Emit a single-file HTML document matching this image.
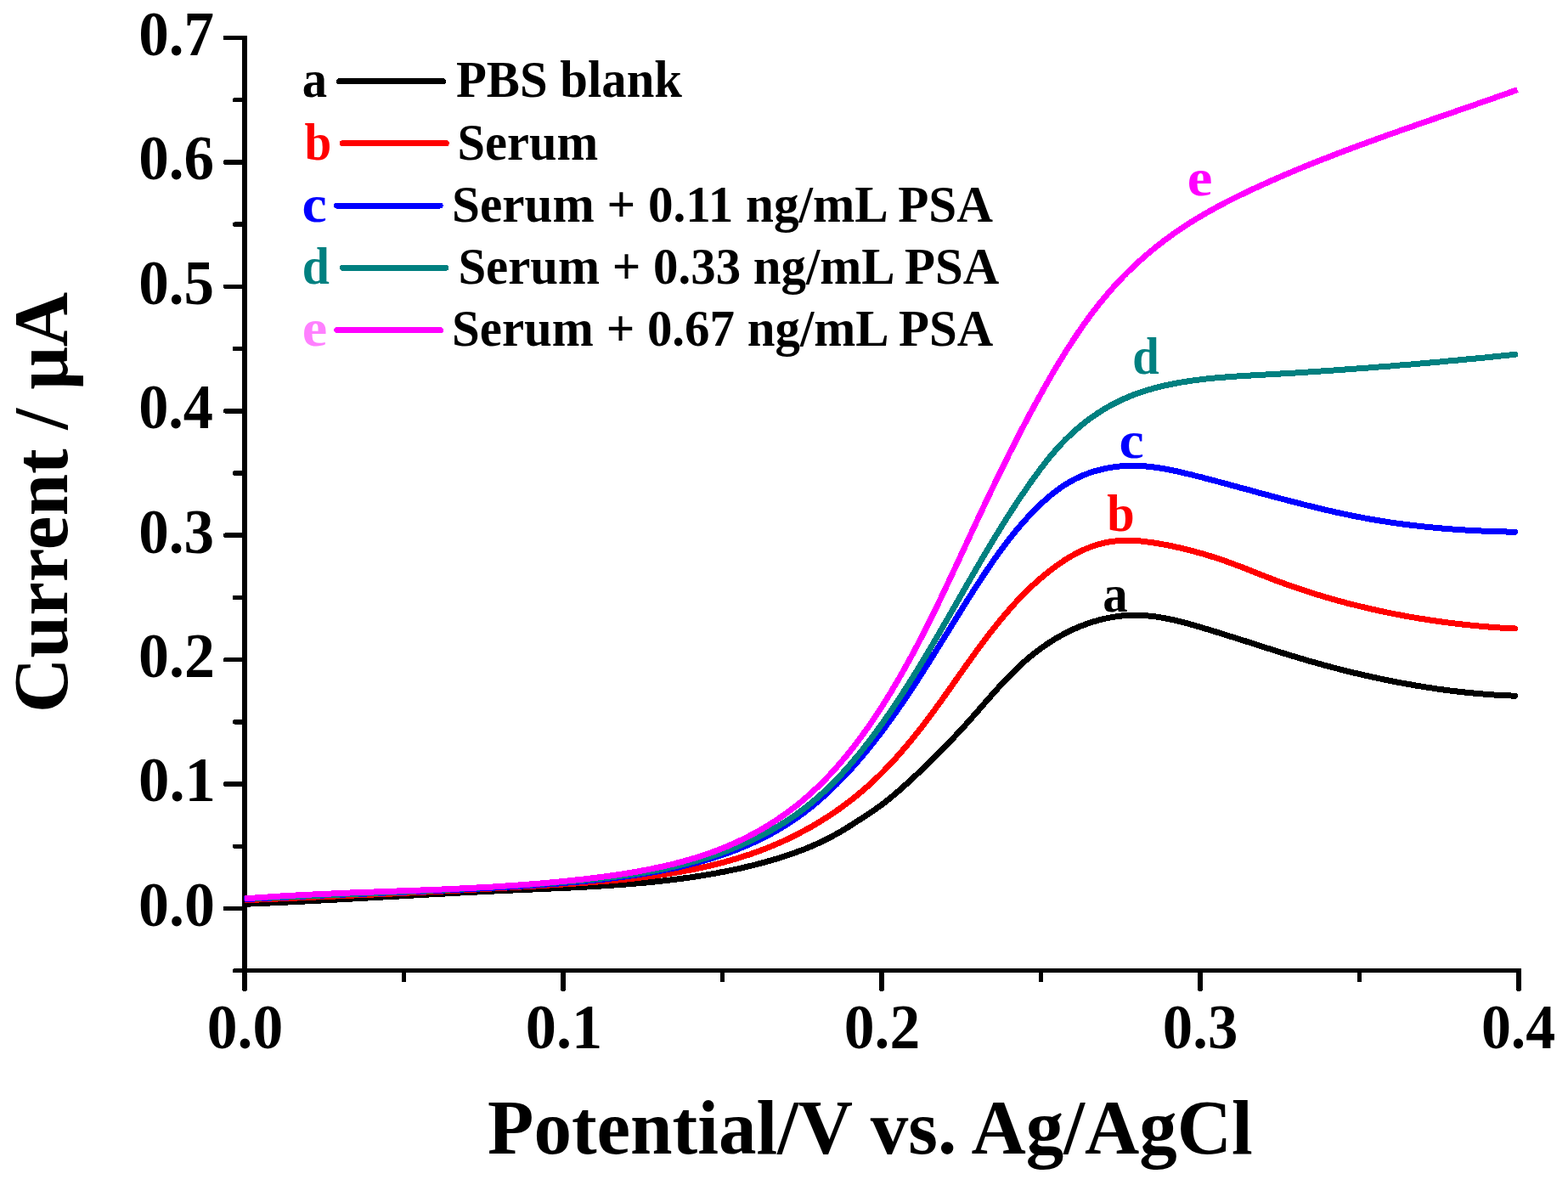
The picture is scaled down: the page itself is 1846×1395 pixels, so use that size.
<!DOCTYPE html><html><head><meta charset="utf-8"><title>Current vs Potential</title><style>html,body{margin:0;padding:0;background:#fff;overflow:hidden}svg{display:block}text{font-family:"Liberation Serif",serif;font-weight:bold}</style></head><body>
<svg width="1846" height="1395" viewBox="0 0 1846 1395" shape-rendering="crispEdges">
<rect width="1846" height="1395" fill="#fff"/>
<g stroke="#000" fill="none">
<path d="M288.0 42.0 V1165.7142857142858" stroke-width="6"/>
<path d="M285.0 1142.71 H1791.0" stroke-width="5"/>
<path d="M265.5 1069.50 H288.0" stroke-width="5.5" stroke-linecap="round"/>
<path d="M265.5 923.07 H288.0" stroke-width="5.5" stroke-linecap="round"/>
<path d="M265.5 776.64 H288.0" stroke-width="5.5" stroke-linecap="round"/>
<path d="M265.5 630.21 H288.0" stroke-width="5.5" stroke-linecap="round"/>
<path d="M265.5 483.79 H288.0" stroke-width="5.5" stroke-linecap="round"/>
<path d="M265.5 337.36 H288.0" stroke-width="5.5" stroke-linecap="round"/>
<path d="M265.5 190.93 H288.0" stroke-width="5.5" stroke-linecap="round"/>
<path d="M265.5 44.50 H288.0" stroke-width="5.5" stroke-linecap="round"/>
<path d="M276.5 1142.71 H288.0" stroke-width="5.5" stroke-linecap="round"/>
<path d="M276.5 996.29 H288.0" stroke-width="5.5" stroke-linecap="round"/>
<path d="M276.5 849.86 H288.0" stroke-width="5.5" stroke-linecap="round"/>
<path d="M276.5 703.43 H288.0" stroke-width="5.5" stroke-linecap="round"/>
<path d="M276.5 557.00 H288.0" stroke-width="5.5" stroke-linecap="round"/>
<path d="M276.5 410.57 H288.0" stroke-width="5.5" stroke-linecap="round"/>
<path d="M276.5 264.14 H288.0" stroke-width="5.5" stroke-linecap="round"/>
<path d="M276.5 117.71 H288.0" stroke-width="5.5" stroke-linecap="round"/>
<path d="M288.00 1142.71 V1164.7142857142858" stroke-width="5.5" stroke-linecap="round"/>
<path d="M663.00 1142.71 V1164.7142857142858" stroke-width="5.5" stroke-linecap="round"/>
<path d="M1038.00 1142.71 V1164.7142857142858" stroke-width="5.5" stroke-linecap="round"/>
<path d="M1413.00 1142.71 V1164.7142857142858" stroke-width="5.5" stroke-linecap="round"/>
<path d="M1788.00 1142.71 V1164.7142857142858" stroke-width="5.5" stroke-linecap="round"/>
<path d="M475.50 1142.71 V1153.7142857142858" stroke-width="5.5" stroke-linecap="round"/>
<path d="M850.50 1142.71 V1153.7142857142858" stroke-width="5.5" stroke-linecap="round"/>
<path d="M1225.50 1142.71 V1153.7142857142858" stroke-width="5.5" stroke-linecap="round"/>
<path d="M1600.50 1142.71 V1153.7142857142858" stroke-width="5.5" stroke-linecap="round"/>
</g>
<path d="M287.9 1064.4 L290.4 1064.3 L292.9 1064.2 L295.4 1064.0 L297.9 1063.9 L300.4 1063.8 L302.8 1063.7 L305.3 1063.6 L307.8 1063.5 L310.3 1063.4 L312.8 1063.3 L315.3 1063.1 L317.8 1063.0 L320.3 1062.9 L322.8 1062.8 L325.3 1062.7 L327.8 1062.6 L330.3 1062.4 L332.8 1062.3 L335.3 1062.2 L337.8 1062.1 L340.3 1061.9 L342.8 1061.8 L345.3 1061.7 L347.8 1061.6 L350.3 1061.4 L352.8 1061.3 L355.2 1061.2 L357.7 1061.1 L360.2 1060.9 L362.7 1060.8 L365.2 1060.7 L367.7 1060.5 L370.2 1060.4 L372.7 1060.3 L375.2 1060.2 L377.7 1060.0 L380.2 1059.9 L382.7 1059.8 L385.2 1059.6 L387.7 1059.5 L390.2 1059.4 L392.7 1059.2 L395.2 1059.1 L397.7 1059.0 L400.1 1058.8 L402.6 1058.7 L405.1 1058.5 L407.6 1058.4 L410.1 1058.3 L412.6 1058.1 L415.1 1058.0 L417.6 1057.9 L420.1 1057.7 L422.6 1057.6 L425.1 1057.5 L427.6 1057.3 L430.1 1057.2 L432.6 1057.0 L435.1 1056.9 L437.6 1056.8 L440.1 1056.6 L442.6 1056.5 L445.0 1056.3 L447.5 1056.2 L450.0 1056.1 L452.5 1055.9 L455.0 1055.8 L457.5 1055.6 L460.0 1055.5 L462.5 1055.4 L465.0 1055.2 L467.5 1055.1 L470.0 1055.0 L472.5 1054.8 L475.0 1054.7 L477.5 1054.5 L480.0 1054.4 L482.5 1054.3 L485.0 1054.1 L487.4 1054.0 L489.9 1053.8 L492.4 1053.7 L494.9 1053.6 L497.4 1053.4 L499.9 1053.3 L502.4 1053.2 L504.9 1053.0 L507.4 1052.9 L509.9 1052.8 L512.4 1052.6 L514.9 1052.5 L517.4 1052.3 L519.9 1052.2 L522.4 1052.1 L524.9 1051.9 L527.4 1051.8 L529.9 1051.7 L532.3 1051.5 L534.8 1051.4 L537.3 1051.3 L539.8 1051.2 L542.3 1051.0 L544.8 1050.9 L547.3 1050.8 L549.8 1050.6 L552.3 1050.5 L554.8 1050.4 L557.3 1050.2 L559.8 1050.1 L562.3 1050.0 L564.8 1049.9 L567.3 1049.7 L569.8 1049.6 L572.3 1049.5 L574.8 1049.4 L577.3 1049.3 L579.7 1049.1 L582.2 1049.0 L584.7 1048.9 L587.2 1048.8 L589.7 1048.7 L592.2 1048.5 L594.7 1048.4 L597.2 1048.3 L599.7 1048.2 L602.2 1048.1 L604.7 1048.0 L607.2 1047.9 L609.7 1047.7 L612.2 1047.6 L614.7 1047.5 L617.2 1047.4 L619.7 1047.3 L622.2 1047.2 L624.7 1047.1 L627.2 1047.0 L629.7 1046.9 L632.2 1046.8 L634.7 1046.7 L637.1 1046.5 L639.6 1046.4 L642.1 1046.3 L644.6 1046.2 L647.1 1046.1 L649.6 1046.0 L652.1 1045.9 L654.6 1045.8 L657.1 1045.7 L659.6 1045.6 L662.1 1045.4 L664.6 1045.3 L667.1 1045.2 L669.6 1045.1 L672.1 1045.0 L674.6 1044.8 L677.1 1044.7 L679.6 1044.6 L682.1 1044.5 L684.6 1044.3 L687.1 1044.2 L689.5 1044.1 L692.0 1043.9 L694.5 1043.8 L697.0 1043.7 L699.5 1043.5 L702.0 1043.4 L704.5 1043.2 L707.0 1043.1 L709.5 1042.9 L712.0 1042.8 L714.5 1042.6 L717.0 1042.4 L719.5 1042.3 L722.0 1042.1 L724.5 1041.9 L726.9 1041.8 L729.4 1041.6 L731.9 1041.4 L734.4 1041.2 L736.9 1041.0 L739.4 1040.8 L741.9 1040.6 L744.4 1040.4 L746.9 1040.2 L749.4 1040.0 L751.9 1039.8 L754.3 1039.6 L756.8 1039.4 L759.3 1039.1 L761.8 1038.9 L764.3 1038.7 L766.8 1038.4 L769.3 1038.2 L771.7 1037.9 L774.2 1037.6 L776.7 1037.4 L779.2 1037.1 L781.7 1036.8 L784.2 1036.6 L786.6 1036.3 L789.1 1036.0 L791.6 1035.7 L794.1 1035.4 L796.6 1035.1 L799.0 1034.7 L801.5 1034.4 L804.0 1034.1 L806.5 1033.8 L808.9 1033.4 L811.4 1033.1 L813.9 1032.7 L816.4 1032.3 L818.8 1032.0 L821.3 1031.6 L823.8 1031.2 L826.2 1030.8 L828.7 1030.4 L831.2 1030.0 L833.6 1029.6 L836.1 1029.2 L838.6 1028.7 L841.0 1028.3 L843.5 1027.9 L845.9 1027.4 L848.4 1026.9 L850.8 1026.5 L853.3 1026.0 L855.7 1025.5 L858.2 1025.0 L860.6 1024.5 L863.1 1024.0 L865.5 1023.5 L868.0 1023.0 L870.4 1022.4 L872.8 1021.9 L875.3 1021.3 L877.7 1020.8 L880.1 1020.2 L882.6 1019.6 L885.0 1019.0 L887.4 1018.4 L889.8 1017.8 L892.3 1017.2 L894.7 1016.5 L897.1 1015.9 L899.5 1015.2 L901.9 1014.6 L904.3 1013.9 L906.7 1013.2 L909.1 1012.5 L911.5 1011.8 L913.9 1011.1 L916.3 1010.4 L918.7 1009.6 L921.1 1008.9 L923.4 1008.1 L925.8 1007.3 L928.2 1006.5 L930.6 1005.7 L932.9 1004.9 L935.3 1004.1 L937.6 1003.2 L940.0 1002.3 L942.3 1001.5 L944.6 1000.6 L947.0 999.7 L949.3 998.7 L951.6 997.8 L953.9 996.8 L956.2 995.9 L958.5 994.9 L960.8 993.8 L963.0 992.8 L965.3 991.8 L967.6 990.7 L969.8 989.6 L972.1 988.5 L974.3 987.4 L976.5 986.3 L978.7 985.1 L980.9 983.9 L983.1 982.8 L985.3 981.5 L987.5 980.3 L989.7 979.1 L991.8 977.8 L993.9 976.5 L996.1 975.2 L998.2 973.9 L1000.3 972.5 L1002.4 971.2 L1004.5 969.8 L1006.6 968.5 L1008.7 967.1 L1010.8 965.8 L1012.9 964.4 L1015.0 963.1 L1017.1 961.7 L1019.2 960.4 L1021.3 959.0 L1023.4 957.6 L1025.5 956.2 L1027.5 954.8 L1029.6 953.4 L1031.6 952.0 L1033.7 950.5 L1035.7 949.1 L1037.7 947.6 L1039.7 946.1 L1041.7 944.5 L1043.6 943.0 L1045.6 941.4 L1047.5 939.9 L1049.5 938.3 L1051.4 936.7 L1053.3 935.1 L1055.2 933.5 L1057.1 931.8 L1059.0 930.2 L1060.9 928.5 L1062.7 926.9 L1064.6 925.2 L1066.4 923.6 L1068.3 921.9 L1070.1 920.2 L1072.0 918.5 L1073.8 916.8 L1075.7 915.1 L1077.5 913.4 L1079.3 911.7 L1081.1 910.0 L1083.0 908.3 L1084.8 906.6 L1086.6 904.9 L1088.4 903.1 L1090.2 901.4 L1092.0 899.7 L1093.8 897.9 L1095.6 896.2 L1097.3 894.4 L1099.1 892.7 L1100.9 890.9 L1102.7 889.1 L1104.4 887.4 L1106.2 885.6 L1107.9 883.8 L1109.7 882.0 L1111.4 880.3 L1113.2 878.5 L1114.9 876.7 L1116.7 874.9 L1118.4 873.1 L1120.1 871.3 L1121.8 869.5 L1123.5 867.6 L1125.2 865.8 L1126.9 864.0 L1128.6 862.2 L1130.3 860.3 L1132.0 858.5 L1133.7 856.6 L1135.4 854.8 L1137.1 852.9 L1138.7 851.1 L1140.4 849.2 L1142.1 847.3 L1143.7 845.5 L1145.4 843.6 L1147.0 841.7 L1148.7 839.9 L1150.3 838.0 L1152.0 836.1 L1153.6 834.2 L1155.3 832.3 L1156.9 830.5 L1158.5 828.6 L1160.2 826.7 L1161.8 824.8 L1163.5 822.9 L1165.1 821.1 L1166.8 819.2 L1168.5 817.3 L1170.1 815.5 L1171.8 813.6 L1173.5 811.7 L1175.1 809.9 L1176.8 808.1 L1178.5 806.2 L1180.2 804.4 L1181.9 802.6 L1183.6 800.8 L1185.4 798.9 L1187.1 797.1 L1188.9 795.4 L1190.6 793.6 L1192.4 791.8 L1194.1 790.1 L1195.9 788.3 L1197.7 786.6 L1199.5 784.9 L1201.4 783.2 L1203.2 781.5 L1205.1 779.8 L1206.9 778.1 L1208.8 776.5 L1210.7 774.9 L1212.6 773.2 L1214.5 771.7 L1216.5 770.1 L1218.4 768.5 L1220.4 767.0 L1222.4 765.5 L1224.4 764.0 L1226.4 762.5 L1228.5 761.1 L1230.5 759.7 L1232.6 758.2 L1234.7 756.9 L1236.8 755.5 L1238.9 754.2 L1241.0 752.9 L1243.1 751.6 L1245.3 750.3 L1247.5 749.1 L1249.6 747.9 L1251.8 746.7 L1254.1 745.5 L1256.3 744.4 L1258.5 743.3 L1260.8 742.2 L1263.0 741.1 L1265.3 740.1 L1267.6 739.1 L1269.9 738.1 L1272.2 737.2 L1274.5 736.3 L1276.9 735.4 L1279.2 734.5 L1281.6 733.7 L1283.9 732.9 L1286.3 732.1 L1288.7 731.4 L1291.1 730.7 L1293.5 730.1 L1295.9 729.4 L1298.4 728.8 L1300.8 728.3 L1303.2 727.7 L1305.7 727.2 L1308.1 726.8 L1310.6 726.4 L1313.1 726.0 L1315.5 725.6 L1318.0 725.3 L1320.5 725.0 L1323.0 724.8 L1325.5 724.6 L1328.0 724.5 L1330.5 724.3 L1333.0 724.3 L1335.5 724.2 L1338.0 724.2 L1340.5 724.3 L1343.0 724.3 L1345.5 724.5 L1347.9 724.6 L1350.4 724.8 L1352.9 725.1 L1355.4 725.3 L1357.9 725.6 L1360.4 725.9 L1362.8 726.3 L1365.3 726.7 L1367.8 727.1 L1370.2 727.5 L1372.7 728.0 L1375.1 728.5 L1377.6 729.0 L1380.0 729.5 L1382.5 730.0 L1384.9 730.6 L1387.3 731.2 L1389.8 731.8 L1392.2 732.4 L1394.6 733.0 L1397.0 733.7 L1399.4 734.3 L1401.8 735.0 L1404.2 735.7 L1406.6 736.4 L1409.0 737.0 L1411.4 737.8 L1413.8 738.5 L1416.2 739.2 L1418.6 739.9 L1421.0 740.6 L1423.4 741.3 L1425.8 742.1 L1428.2 742.8 L1430.6 743.5 L1432.9 744.3 L1435.3 745.0 L1437.7 745.8 L1440.1 746.5 L1442.5 747.3 L1444.9 748.0 L1447.2 748.8 L1449.6 749.5 L1452.0 750.3 L1454.4 751.0 L1456.8 751.8 L1459.2 752.5 L1461.5 753.3 L1463.9 754.1 L1466.3 754.8 L1468.7 755.6 L1471.1 756.3 L1473.4 757.1 L1475.8 757.9 L1478.2 758.6 L1480.6 759.4 L1482.9 760.1 L1485.3 760.9 L1487.7 761.7 L1490.1 762.4 L1492.5 763.2 L1494.9 763.9 L1497.2 764.7 L1499.6 765.4 L1502.0 766.2 L1504.4 766.9 L1506.8 767.7 L1509.2 768.4 L1511.5 769.2 L1513.9 769.9 L1516.3 770.6 L1518.7 771.4 L1521.1 772.1 L1523.5 772.8 L1525.9 773.5 L1528.3 774.2 L1530.7 775.0 L1533.1 775.7 L1535.5 776.4 L1537.9 777.1 L1540.2 777.8 L1542.6 778.5 L1545.1 779.2 L1547.5 779.8 L1549.9 780.5 L1552.3 781.2 L1554.7 781.9 L1557.1 782.5 L1559.5 783.2 L1561.9 783.8 L1564.3 784.5 L1566.7 785.1 L1569.1 785.8 L1571.6 786.4 L1574.0 787.0 L1576.4 787.6 L1578.8 788.3 L1581.2 788.9 L1583.7 789.5 L1586.1 790.1 L1588.5 790.7 L1590.9 791.3 L1593.4 791.9 L1595.8 792.5 L1598.2 793.0 L1600.7 793.6 L1603.1 794.2 L1605.5 794.7 L1608.0 795.3 L1610.4 795.8 L1612.8 796.4 L1615.3 796.9 L1617.7 797.5 L1620.1 798.0 L1622.6 798.5 L1625.0 799.0 L1627.5 799.6 L1629.9 800.1 L1632.4 800.6 L1634.8 801.1 L1637.3 801.6 L1639.7 802.0 L1642.2 802.5 L1644.6 803.0 L1647.1 803.5 L1649.5 803.9 L1652.0 804.4 L1654.4 804.8 L1656.9 805.3 L1659.4 805.7 L1661.8 806.1 L1664.3 806.6 L1666.7 807.0 L1669.2 807.4 L1671.7 807.8 L1674.1 808.2 L1676.6 808.6 L1679.1 809.0 L1681.5 809.4 L1684.0 809.8 L1686.5 810.1 L1689.0 810.5 L1691.4 810.9 L1693.9 811.2 L1696.4 811.6 L1698.9 811.9 L1701.3 812.2 L1703.8 812.5 L1706.3 812.9 L1708.8 813.2 L1711.2 813.5 L1713.7 813.8 L1716.2 814.1 L1718.7 814.4 L1721.2 814.6 L1723.6 814.9 L1726.1 815.2 L1728.6 815.4 L1731.1 815.7 L1733.6 815.9 L1736.1 816.2 L1738.6 816.4 L1741.1 816.6 L1743.5 816.8 L1746.0 817.0 L1748.5 817.2 L1751.0 817.4 L1753.5 817.6 L1756.0 817.8 L1758.5 818.0 L1761.0 818.1 L1763.5 818.3 L1766.0 818.4 L1768.5 818.6 L1771.0 818.7 L1773.4 818.8 L1775.9 818.9 L1778.4 819.0 L1780.9 819.1 L1783.4 819.2" fill="none" stroke="#000000" stroke-width="7.0" stroke-linejoin="round"/>
<circle cx="1783.4" cy="819.2" r="3.5" fill="#000000"/>
<path d="M287.7 1059.7 L290.2 1059.6 L292.7 1059.5 L295.2 1059.4 L297.7 1059.3 L300.2 1059.2 L302.7 1059.1 L305.2 1059.0 L307.7 1058.9 L310.2 1058.8 L312.7 1058.6 L315.2 1058.5 L317.7 1058.4 L320.2 1058.3 L322.7 1058.2 L325.2 1058.1 L327.7 1058.0 L330.2 1057.9 L332.7 1057.8 L335.2 1057.7 L337.7 1057.6 L340.2 1057.5 L342.7 1057.3 L345.1 1057.2 L347.6 1057.1 L350.1 1057.0 L352.6 1056.9 L355.1 1056.8 L357.6 1056.7 L360.1 1056.6 L362.6 1056.5 L365.1 1056.4 L367.6 1056.3 L370.1 1056.1 L372.6 1056.0 L375.1 1055.9 L377.6 1055.8 L380.1 1055.7 L382.6 1055.6 L385.1 1055.5 L387.6 1055.4 L390.1 1055.3 L392.6 1055.2 L395.1 1055.0 L397.6 1054.9 L400.1 1054.8 L402.5 1054.7 L405.0 1054.6 L407.5 1054.5 L410.0 1054.4 L412.5 1054.3 L415.0 1054.1 L417.5 1054.0 L420.0 1053.9 L422.5 1053.8 L425.0 1053.7 L427.5 1053.6 L430.0 1053.5 L432.5 1053.4 L435.0 1053.2 L437.5 1053.1 L440.0 1053.0 L442.5 1052.9 L445.0 1052.8 L447.5 1052.7 L450.0 1052.6 L452.5 1052.4 L455.0 1052.3 L457.5 1052.2 L459.9 1052.1 L462.4 1052.0 L464.9 1051.8 L467.4 1051.7 L469.9 1051.6 L472.4 1051.5 L474.9 1051.4 L477.4 1051.3 L479.9 1051.1 L482.4 1051.0 L484.9 1050.9 L487.4 1050.8 L489.9 1050.7 L492.4 1050.5 L494.9 1050.4 L497.4 1050.3 L499.9 1050.2 L502.4 1050.0 L504.9 1049.9 L507.4 1049.8 L509.9 1049.7 L512.3 1049.5 L514.8 1049.4 L517.3 1049.3 L519.8 1049.2 L522.3 1049.0 L524.8 1048.9 L527.3 1048.8 L529.8 1048.7 L532.3 1048.5 L534.8 1048.4 L537.3 1048.3 L539.8 1048.1 L542.3 1048.0 L544.8 1047.9 L547.3 1047.7 L549.8 1047.6 L552.3 1047.5 L554.8 1047.3 L557.3 1047.2 L559.7 1047.1 L562.2 1046.9 L564.7 1046.8 L567.2 1046.7 L569.7 1046.5 L572.2 1046.4 L574.7 1046.3 L577.2 1046.1 L579.7 1046.0 L582.2 1045.8 L584.7 1045.7 L587.2 1045.6 L589.7 1045.4 L592.2 1045.3 L594.7 1045.1 L597.2 1045.0 L599.7 1044.9 L602.1 1044.7 L604.6 1044.6 L607.1 1044.4 L609.6 1044.3 L612.1 1044.1 L614.6 1044.0 L617.1 1043.8 L619.6 1043.7 L622.1 1043.5 L624.6 1043.4 L627.1 1043.2 L629.6 1043.1 L632.1 1042.9 L634.6 1042.8 L637.1 1042.6 L639.6 1042.5 L642.0 1042.3 L644.5 1042.2 L647.0 1042.0 L649.5 1041.9 L652.0 1041.7 L654.5 1041.5 L657.0 1041.4 L659.5 1041.2 L662.0 1041.1 L664.5 1040.9 L667.0 1040.7 L669.5 1040.6 L672.0 1040.4 L674.5 1040.2 L676.9 1040.1 L679.4 1039.9 L681.9 1039.7 L684.4 1039.5 L686.9 1039.4 L689.4 1039.2 L691.9 1039.0 L694.4 1038.8 L696.9 1038.6 L699.4 1038.4 L701.9 1038.2 L704.4 1038.0 L706.8 1037.8 L709.3 1037.6 L711.8 1037.4 L714.3 1037.2 L716.8 1037.0 L719.3 1036.7 L721.8 1036.5 L724.3 1036.3 L726.7 1036.1 L729.2 1035.8 L731.7 1035.6 L734.2 1035.3 L736.7 1035.1 L739.2 1034.8 L741.7 1034.5 L744.1 1034.3 L746.6 1034.0 L749.1 1033.7 L751.6 1033.4 L754.1 1033.1 L756.6 1032.8 L759.0 1032.5 L761.5 1032.2 L764.0 1031.9 L766.5 1031.6 L768.9 1031.2 L771.4 1030.9 L773.9 1030.6 L776.4 1030.2 L778.8 1029.9 L781.3 1029.5 L783.8 1029.1 L786.2 1028.7 L788.7 1028.3 L791.2 1027.9 L793.6 1027.5 L796.1 1027.1 L798.6 1026.7 L801.0 1026.3 L803.5 1025.8 L805.9 1025.4 L808.4 1024.9 L810.9 1024.4 L813.3 1024.0 L815.8 1023.5 L818.2 1023.0 L820.7 1022.5 L823.1 1022.0 L825.5 1021.5 L828.0 1020.9 L830.4 1020.4 L832.9 1019.8 L835.3 1019.3 L837.7 1018.7 L840.1 1018.1 L842.6 1017.5 L845.0 1016.9 L847.4 1016.3 L849.8 1015.6 L852.2 1015.0 L854.7 1014.3 L857.1 1013.7 L859.5 1013.0 L861.9 1012.3 L864.3 1011.6 L866.7 1010.9 L869.1 1010.2 L871.4 1009.4 L873.8 1008.7 L876.2 1007.9 L878.6 1007.1 L881.0 1006.4 L883.3 1005.6 L885.7 1004.7 L888.0 1003.9 L890.4 1003.1 L892.7 1002.2 L895.1 1001.4 L897.4 1000.5 L899.7 999.6 L902.1 998.7 L904.4 997.7 L906.7 996.8 L909.0 995.9 L911.3 994.9 L913.6 993.9 L915.9 992.9 L918.2 991.9 L920.5 990.9 L922.8 989.9 L925.0 988.8 L927.3 987.8 L929.5 986.7 L931.8 985.6 L934.0 984.5 L936.3 983.4 L938.5 982.2 L940.7 981.1 L942.9 979.9 L945.1 978.8 L947.3 977.6 L949.5 976.4 L951.7 975.2 L953.9 974.0 L956.1 972.7 L958.2 971.5 L960.4 970.2 L962.5 968.9 L964.7 967.6 L966.8 966.3 L968.9 965.0 L971.0 963.7 L973.1 962.3 L975.2 961.0 L977.3 959.6 L979.4 958.2 L981.5 956.8 L983.5 955.4 L985.6 954.0 L987.6 952.6 L989.7 951.1 L991.7 949.7 L993.7 948.2 L995.7 946.7 L997.7 945.2 L999.7 943.7 L1001.7 942.2 L1003.7 940.6 L1005.6 939.1 L1007.6 937.5 L1009.5 935.9 L1011.4 934.3 L1013.3 932.7 L1015.2 931.1 L1017.1 929.5 L1019.0 927.8 L1020.9 926.2 L1022.7 924.5 L1024.6 922.8 L1026.4 921.1 L1028.3 919.4 L1030.1 917.7 L1031.9 916.0 L1033.7 914.3 L1035.5 912.5 L1037.2 910.8 L1039.0 909.0 L1040.8 907.2 L1042.5 905.4 L1044.3 903.6 L1046.0 901.8 L1047.7 900.0 L1049.4 898.2 L1051.1 896.4 L1052.8 894.5 L1054.5 892.7 L1056.1 890.8 L1057.8 888.9 L1059.5 887.1 L1061.1 885.2 L1062.7 883.3 L1064.4 881.4 L1066.0 879.5 L1067.6 877.6 L1069.2 875.7 L1070.8 873.8 L1072.4 871.8 L1074.0 869.9 L1075.5 868.0 L1077.1 866.0 L1078.7 864.1 L1080.2 862.1 L1081.8 860.2 L1083.3 858.2 L1084.9 856.2 L1086.4 854.2 L1087.9 852.3 L1089.4 850.3 L1090.9 848.3 L1092.4 846.3 L1093.9 844.3 L1095.4 842.3 L1096.9 840.3 L1098.4 838.3 L1099.9 836.3 L1101.3 834.2 L1102.8 832.2 L1104.3 830.2 L1105.8 828.2 L1107.2 826.1 L1108.7 824.1 L1110.1 822.1 L1111.6 820.1 L1113.0 818.0 L1114.5 816.0 L1115.9 813.9 L1117.4 811.9 L1118.8 809.9 L1120.2 807.8 L1121.7 805.8 L1123.1 803.7 L1124.5 801.7 L1126.0 799.6 L1127.4 797.6 L1128.9 795.6 L1130.3 793.5 L1131.7 791.5 L1133.2 789.4 L1134.6 787.4 L1136.1 785.4 L1137.5 783.3 L1139.0 781.3 L1140.4 779.3 L1141.9 777.2 L1143.3 775.2 L1144.8 773.2 L1146.2 771.1 L1147.7 769.1 L1149.2 767.1 L1150.6 765.1 L1152.1 763.1 L1153.6 761.0 L1155.1 759.0 L1156.6 757.0 L1158.1 755.0 L1159.6 753.0 L1161.1 751.0 L1162.6 749.1 L1164.1 747.1 L1165.7 745.1 L1167.2 743.1 L1168.7 741.2 L1170.3 739.2 L1171.8 737.3 L1173.4 735.3 L1175.0 733.4 L1176.5 731.4 L1178.1 729.5 L1179.7 727.6 L1181.3 725.7 L1183.0 723.8 L1184.6 721.9 L1186.2 720.0 L1187.9 718.1 L1189.5 716.2 L1191.2 714.3 L1192.8 712.5 L1194.5 710.6 L1196.2 708.8 L1197.9 707.0 L1199.6 705.2 L1201.4 703.4 L1203.1 701.6 L1204.9 699.8 L1206.6 698.0 L1208.4 696.3 L1210.2 694.5 L1212.0 692.8 L1213.8 691.1 L1215.6 689.3 L1217.4 687.6 L1219.3 686.0 L1221.1 684.3 L1223.0 682.6 L1224.9 681.0 L1226.8 679.4 L1228.7 677.8 L1230.6 676.2 L1232.6 674.6 L1234.5 673.0 L1236.5 671.5 L1238.5 670.0 L1240.4 668.5 L1242.5 667.0 L1244.5 665.5 L1246.5 664.1 L1248.6 662.6 L1250.7 661.3 L1252.7 659.9 L1254.8 658.5 L1257.0 657.2 L1259.1 655.9 L1261.3 654.7 L1263.4 653.5 L1265.6 652.3 L1267.9 651.1 L1270.1 650.0 L1272.3 648.9 L1274.6 647.8 L1276.9 646.8 L1279.2 645.8 L1281.5 644.9 L1283.8 644.0 L1286.2 643.1 L1288.5 642.3 L1290.9 641.6 L1293.3 640.8 L1295.7 640.2 L1298.1 639.6 L1300.6 639.0 L1303.0 638.5 L1305.5 638.0 L1307.9 637.6 L1310.4 637.3 L1312.9 637.0 L1315.4 636.7 L1317.9 636.6 L1320.4 636.4 L1322.9 636.3 L1325.3 636.3 L1327.8 636.3 L1330.3 636.3 L1332.8 636.4 L1335.3 636.5 L1337.8 636.7 L1340.3 636.8 L1342.8 637.0 L1345.3 637.3 L1347.8 637.6 L1350.3 637.9 L1352.7 638.2 L1355.2 638.5 L1357.7 638.9 L1360.2 639.3 L1362.6 639.7 L1365.1 640.1 L1367.5 640.5 L1370.0 641.0 L1372.5 641.4 L1374.9 641.9 L1377.4 642.4 L1379.8 642.9 L1382.2 643.4 L1384.7 644.0 L1387.1 644.5 L1389.6 645.1 L1392.0 645.6 L1394.4 646.2 L1396.8 646.8 L1399.3 647.4 L1401.7 648.0 L1404.1 648.7 L1406.5 649.3 L1408.9 650.0 L1411.3 650.6 L1413.7 651.3 L1416.1 652.0 L1418.5 652.7 L1420.9 653.4 L1423.3 654.2 L1425.7 654.9 L1428.1 655.7 L1430.5 656.4 L1432.8 657.2 L1435.2 658.0 L1437.6 658.8 L1439.9 659.6 L1442.3 660.4 L1444.7 661.3 L1447.0 662.1 L1449.4 662.9 L1451.7 663.8 L1454.0 664.7 L1456.4 665.6 L1458.7 666.4 L1461.1 667.3 L1463.4 668.2 L1465.7 669.1 L1468.0 670.0 L1470.4 671.0 L1472.7 671.9 L1475.0 672.8 L1477.3 673.7 L1479.7 674.6 L1482.0 675.5 L1484.3 676.5 L1486.6 677.4 L1489.0 678.3 L1491.3 679.2 L1493.6 680.1 L1495.9 681.0 L1498.3 681.9 L1500.6 682.8 L1502.9 683.7 L1505.3 684.5 L1507.6 685.4 L1510.0 686.3 L1512.3 687.1 L1514.7 688.0 L1517.0 688.8 L1519.4 689.6 L1521.7 690.5 L1524.1 691.3 L1526.5 692.1 L1528.8 692.9 L1531.2 693.7 L1533.6 694.5 L1535.9 695.2 L1538.3 696.0 L1540.7 696.8 L1543.1 697.6 L1545.5 698.3 L1547.8 699.1 L1550.2 699.8 L1552.6 700.5 L1555.0 701.2 L1557.4 702.0 L1559.8 702.7 L1562.2 703.4 L1564.6 704.1 L1567.0 704.8 L1569.4 705.5 L1571.8 706.1 L1574.2 706.8 L1576.6 707.5 L1579.0 708.1 L1581.4 708.8 L1583.8 709.4 L1586.3 710.1 L1588.7 710.7 L1591.1 711.3 L1593.5 711.9 L1595.9 712.5 L1598.4 713.1 L1600.8 713.7 L1603.2 714.3 L1605.7 714.9 L1608.1 715.5 L1610.5 716.0 L1612.9 716.6 L1615.4 717.2 L1617.8 717.7 L1620.3 718.3 L1622.7 718.8 L1625.1 719.3 L1627.6 719.8 L1630.0 720.4 L1632.5 720.9 L1634.9 721.4 L1637.4 721.9 L1639.8 722.4 L1642.3 722.9 L1644.7 723.3 L1647.2 723.8 L1649.6 724.3 L1652.1 724.7 L1654.5 725.2 L1657.0 725.6 L1659.5 726.1 L1661.9 726.5 L1664.4 726.9 L1666.8 727.3 L1669.3 727.7 L1671.8 728.2 L1674.2 728.6 L1676.7 728.9 L1679.2 729.3 L1681.6 729.7 L1684.1 730.1 L1686.6 730.5 L1689.1 730.8 L1691.5 731.2 L1694.0 731.5 L1696.5 731.9 L1699.0 732.2 L1701.4 732.5 L1703.9 732.9 L1706.4 733.2 L1708.9 733.5 L1711.3 733.8 L1713.8 734.1 L1716.3 734.4 L1718.8 734.7 L1721.3 735.0 L1723.7 735.2 L1726.2 735.5 L1728.7 735.8 L1731.2 736.0 L1733.7 736.3 L1736.2 736.5 L1738.7 736.8 L1741.1 737.0 L1743.6 737.2 L1746.1 737.4 L1748.6 737.6 L1751.1 737.9 L1753.6 738.1 L1756.1 738.3 L1758.6 738.4 L1761.1 738.6 L1763.6 738.8 L1766.0 739.0 L1768.5 739.1 L1771.0 739.3 L1773.5 739.4 L1776.0 739.6 L1778.5 739.7 L1781.0 739.9 L1783.5 740.0" fill="none" stroke="#ff0000" stroke-width="7.0" stroke-linejoin="round"/>
<circle cx="1783.5" cy="740.0" r="3.5" fill="#ff0000"/>
<path d="M287.4 1058.8 L289.9 1058.6 L292.4 1058.5 L294.9 1058.3 L297.4 1058.2 L299.9 1058.0 L302.4 1057.9 L304.9 1057.8 L307.4 1057.6 L309.9 1057.5 L312.4 1057.4 L314.9 1057.2 L317.4 1057.1 L319.9 1057.0 L322.4 1056.8 L324.9 1056.7 L327.4 1056.6 L329.9 1056.5 L332.4 1056.3 L334.9 1056.2 L337.4 1056.1 L339.9 1056.0 L342.3 1055.9 L344.8 1055.7 L347.3 1055.6 L349.8 1055.5 L352.3 1055.4 L354.8 1055.3 L357.3 1055.2 L359.8 1055.0 L362.3 1054.9 L364.8 1054.8 L367.3 1054.7 L369.8 1054.6 L372.3 1054.5 L374.8 1054.4 L377.3 1054.3 L379.8 1054.1 L382.3 1054.0 L384.8 1053.9 L387.3 1053.8 L389.8 1053.7 L392.3 1053.6 L394.8 1053.5 L397.3 1053.4 L399.8 1053.3 L402.3 1053.2 L404.8 1053.1 L407.3 1053.0 L409.8 1052.9 L412.3 1052.8 L414.7 1052.7 L417.2 1052.6 L419.7 1052.5 L422.2 1052.4 L424.7 1052.3 L427.2 1052.2 L429.7 1052.1 L432.2 1052.0 L434.7 1051.9 L437.2 1051.8 L439.7 1051.6 L442.2 1051.5 L444.7 1051.4 L447.2 1051.3 L449.7 1051.2 L452.2 1051.1 L454.7 1051.0 L457.2 1050.9 L459.7 1050.8 L462.2 1050.7 L464.7 1050.6 L467.2 1050.5 L469.7 1050.4 L472.2 1050.3 L474.7 1050.2 L477.2 1050.1 L479.7 1050.0 L482.2 1049.9 L484.7 1049.8 L487.2 1049.7 L489.7 1049.6 L492.2 1049.5 L494.6 1049.4 L497.1 1049.3 L499.6 1049.2 L502.1 1049.0 L504.6 1048.9 L507.1 1048.8 L509.6 1048.7 L512.1 1048.6 L514.6 1048.5 L517.1 1048.4 L519.6 1048.3 L522.1 1048.1 L524.6 1048.0 L527.1 1047.9 L529.6 1047.8 L532.1 1047.7 L534.6 1047.6 L537.1 1047.4 L539.6 1047.3 L542.1 1047.2 L544.6 1047.1 L547.1 1046.9 L549.6 1046.8 L552.1 1046.7 L554.6 1046.6 L557.1 1046.4 L559.5 1046.3 L562.0 1046.2 L564.5 1046.0 L567.0 1045.9 L569.5 1045.8 L572.0 1045.6 L574.5 1045.5 L577.0 1045.4 L579.5 1045.2 L582.0 1045.1 L584.5 1044.9 L587.0 1044.8 L589.5 1044.6 L592.0 1044.5 L594.5 1044.3 L597.0 1044.2 L599.5 1044.0 L602.0 1043.9 L604.5 1043.7 L607.0 1043.6 L609.4 1043.4 L611.9 1043.2 L614.4 1043.1 L616.9 1042.9 L619.4 1042.8 L621.9 1042.6 L624.4 1042.4 L626.9 1042.3 L629.4 1042.1 L631.9 1041.9 L634.4 1041.7 L636.9 1041.5 L639.4 1041.4 L641.9 1041.2 L644.3 1041.0 L646.8 1040.8 L649.3 1040.6 L651.8 1040.4 L654.3 1040.2 L656.8 1040.1 L659.3 1039.9 L661.8 1039.7 L664.3 1039.5 L666.8 1039.3 L669.3 1039.0 L671.7 1038.8 L674.2 1038.6 L676.7 1038.4 L679.2 1038.2 L681.7 1038.0 L684.2 1037.7 L686.7 1037.5 L689.2 1037.3 L691.7 1037.0 L694.1 1036.8 L696.6 1036.5 L699.1 1036.3 L701.6 1036.0 L704.1 1035.8 L706.6 1035.5 L709.1 1035.2 L711.5 1035.0 L714.0 1034.7 L716.5 1034.4 L719.0 1034.1 L721.5 1033.8 L724.0 1033.5 L726.4 1033.2 L728.9 1032.9 L731.4 1032.6 L733.9 1032.2 L736.3 1031.9 L738.8 1031.6 L741.3 1031.2 L743.8 1030.9 L746.2 1030.5 L748.7 1030.1 L751.2 1029.8 L753.7 1029.4 L756.1 1029.0 L758.6 1028.6 L761.1 1028.2 L763.5 1027.8 L766.0 1027.4 L768.4 1026.9 L770.9 1026.5 L773.4 1026.0 L775.8 1025.6 L778.3 1025.1 L780.7 1024.7 L783.2 1024.2 L785.6 1023.7 L788.1 1023.2 L790.5 1022.7 L793.0 1022.1 L795.4 1021.6 L797.9 1021.1 L800.3 1020.5 L802.7 1020.0 L805.2 1019.4 L807.6 1018.8 L810.0 1018.2 L812.4 1017.6 L814.9 1017.0 L817.3 1016.4 L819.7 1015.7 L822.1 1015.1 L824.5 1014.4 L826.9 1013.7 L829.3 1013.1 L831.7 1012.4 L834.1 1011.6 L836.5 1010.9 L838.9 1010.2 L841.3 1009.4 L843.7 1008.7 L846.0 1007.9 L848.4 1007.1 L850.8 1006.3 L853.1 1005.5 L855.5 1004.6 L857.8 1003.8 L860.2 1002.9 L862.5 1002.1 L864.9 1001.2 L867.2 1000.3 L869.5 999.4 L871.8 998.4 L874.2 997.5 L876.5 996.5 L878.8 995.5 L881.1 994.5 L883.3 993.5 L885.6 992.5 L887.9 991.5 L890.2 990.4 L892.4 989.4 L894.7 988.3 L896.9 987.2 L899.1 986.0 L901.4 984.9 L903.6 983.7 L905.8 982.6 L908.0 981.4 L910.2 980.2 L912.4 979.0 L914.5 977.7 L916.7 976.5 L918.9 975.2 L921.0 973.9 L923.1 972.6 L925.2 971.3 L927.4 970.0 L929.5 968.6 L931.5 967.2 L933.6 965.8 L935.7 964.4 L937.7 963.0 L939.8 961.6 L941.8 960.1 L943.8 958.6 L945.8 957.2 L947.8 955.7 L949.8 954.1 L951.8 952.6 L953.7 951.0 L955.7 949.5 L957.6 947.9 L959.6 946.3 L961.5 944.7 L963.4 943.1 L965.3 941.4 L967.1 939.8 L969.0 938.1 L970.9 936.5 L972.7 934.8 L974.6 933.1 L976.4 931.4 L978.2 929.7 L980.0 927.9 L981.8 926.2 L983.6 924.4 L985.4 922.7 L987.1 920.9 L988.9 919.1 L990.6 917.3 L992.4 915.6 L994.1 913.7 L995.8 911.9 L997.5 910.1 L999.2 908.3 L1000.9 906.4 L1002.6 904.6 L1004.2 902.7 L1005.9 900.9 L1007.6 899.0 L1009.2 897.1 L1010.8 895.2 L1012.5 893.3 L1014.1 891.4 L1015.7 889.5 L1017.3 887.6 L1018.9 885.7 L1020.5 883.7 L1022.1 881.8 L1023.6 879.9 L1025.2 877.9 L1026.8 876.0 L1028.3 874.0 L1029.9 872.0 L1031.4 870.1 L1032.9 868.1 L1034.5 866.1 L1036.0 864.1 L1037.5 862.1 L1039.0 860.1 L1040.5 858.1 L1042.0 856.1 L1043.5 854.1 L1044.9 852.1 L1046.4 850.1 L1047.9 848.1 L1049.3 846.0 L1050.8 844.0 L1052.3 842.0 L1053.7 839.9 L1055.1 837.9 L1056.6 835.8 L1058.0 833.8 L1059.4 831.7 L1060.8 829.7 L1062.3 827.6 L1063.7 825.6 L1065.1 823.5 L1066.5 821.4 L1067.9 819.3 L1069.2 817.3 L1070.6 815.2 L1072.0 813.1 L1073.4 811.0 L1074.8 808.9 L1076.1 806.8 L1077.5 804.8 L1078.9 802.7 L1080.2 800.6 L1081.6 798.5 L1082.9 796.4 L1084.3 794.3 L1085.6 792.2 L1087.0 790.0 L1088.3 787.9 L1089.7 785.8 L1091.0 783.7 L1092.3 781.6 L1093.7 779.5 L1095.0 777.4 L1096.3 775.3 L1097.6 773.1 L1099.0 771.0 L1100.3 768.9 L1101.6 766.8 L1102.9 764.7 L1104.2 762.5 L1105.6 760.4 L1106.9 758.3 L1108.2 756.2 L1109.5 754.0 L1110.8 751.9 L1112.1 749.8 L1113.5 747.7 L1114.8 745.5 L1116.1 743.4 L1117.4 741.3 L1118.7 739.2 L1120.0 737.0 L1121.3 734.9 L1122.7 732.8 L1124.0 730.7 L1125.3 728.5 L1126.6 726.4 L1127.9 724.3 L1129.2 722.2 L1130.6 720.0 L1131.9 717.9 L1133.2 715.8 L1134.5 713.7 L1135.9 711.6 L1137.2 709.4 L1138.5 707.3 L1139.8 705.2 L1141.2 703.1 L1142.5 701.0 L1143.9 698.9 L1145.2 696.8 L1146.5 694.7 L1147.9 692.6 L1149.2 690.5 L1150.6 688.4 L1151.9 686.3 L1153.3 684.2 L1154.7 682.1 L1156.0 680.0 L1157.4 677.9 L1158.8 675.8 L1160.2 673.7 L1161.6 671.6 L1163.0 669.6 L1164.4 667.5 L1165.8 665.4 L1167.2 663.4 L1168.6 661.3 L1170.0 659.3 L1171.5 657.2 L1172.9 655.2 L1174.4 653.1 L1175.8 651.1 L1177.3 649.1 L1178.8 647.1 L1180.2 645.1 L1181.7 643.1 L1183.2 641.1 L1184.8 639.1 L1186.3 637.1 L1187.8 635.1 L1189.4 633.2 L1190.9 631.2 L1192.5 629.3 L1194.0 627.3 L1195.6 625.4 L1197.2 623.5 L1198.8 621.5 L1200.5 619.6 L1202.1 617.8 L1203.7 615.9 L1205.4 614.0 L1207.1 612.1 L1208.7 610.3 L1210.4 608.5 L1212.1 606.6 L1213.9 604.8 L1215.6 603.0 L1217.3 601.2 L1219.1 599.5 L1220.9 597.7 L1222.7 595.9 L1224.5 594.2 L1226.3 592.5 L1228.1 590.8 L1230.0 589.1 L1231.8 587.5 L1233.7 585.8 L1235.6 584.2 L1237.5 582.6 L1239.5 581.0 L1241.4 579.5 L1243.4 578.0 L1245.4 576.5 L1247.5 575.0 L1249.5 573.6 L1251.6 572.2 L1253.7 570.8 L1255.8 569.5 L1257.9 568.2 L1260.1 567.0 L1262.3 565.7 L1264.5 564.6 L1266.7 563.4 L1269.0 562.4 L1271.2 561.3 L1273.5 560.3 L1275.8 559.3 L1278.2 558.4 L1280.5 557.5 L1282.8 556.7 L1285.2 555.9 L1287.6 555.1 L1290.0 554.4 L1292.4 553.7 L1294.8 553.1 L1297.2 552.5 L1299.7 551.9 L1302.1 551.4 L1304.6 550.9 L1307.0 550.5 L1309.5 550.1 L1312.0 549.7 L1314.4 549.4 L1316.9 549.1 L1319.4 548.9 L1321.9 548.7 L1324.4 548.5 L1326.9 548.4 L1329.4 548.3 L1331.9 548.3 L1334.4 548.3 L1336.9 548.3 L1339.4 548.4 L1341.9 548.5 L1344.4 548.6 L1346.9 548.8 L1349.4 549.0 L1351.8 549.2 L1354.3 549.5 L1356.8 549.8 L1359.3 550.1 L1361.8 550.4 L1364.2 550.8 L1366.7 551.2 L1369.2 551.6 L1371.6 552.0 L1374.1 552.5 L1376.5 553.0 L1379.0 553.5 L1381.4 554.0 L1383.9 554.5 L1386.3 555.0 L1388.8 555.6 L1391.2 556.1 L1393.6 556.7 L1396.1 557.3 L1398.5 557.9 L1400.9 558.4 L1403.4 559.0 L1405.8 559.7 L1408.2 560.3 L1410.6 560.9 L1413.0 561.5 L1415.5 562.1 L1417.9 562.8 L1420.3 563.4 L1422.7 564.0 L1425.1 564.6 L1427.6 565.3 L1430.0 565.9 L1432.4 566.6 L1434.8 567.2 L1437.2 567.8 L1439.6 568.5 L1442.0 569.1 L1444.5 569.8 L1446.9 570.4 L1449.3 571.1 L1451.7 571.7 L1454.1 572.4 L1456.5 573.0 L1458.9 573.7 L1461.3 574.4 L1463.8 575.0 L1466.2 575.7 L1468.6 576.3 L1471.0 577.0 L1473.4 577.6 L1475.8 578.3 L1478.2 578.9 L1480.6 579.6 L1483.0 580.3 L1485.5 580.9 L1487.9 581.6 L1490.3 582.2 L1492.7 582.9 L1495.1 583.5 L1497.5 584.2 L1499.9 584.8 L1502.3 585.5 L1504.8 586.1 L1507.2 586.8 L1509.6 587.4 L1512.0 588.0 L1514.4 588.7 L1516.8 589.3 L1519.3 589.9 L1521.7 590.6 L1524.1 591.2 L1526.5 591.8 L1528.9 592.4 L1531.4 593.1 L1533.8 593.7 L1536.2 594.3 L1538.6 594.9 L1541.0 595.5 L1543.5 596.1 L1545.9 596.7 L1548.3 597.3 L1550.8 597.9 L1553.2 598.5 L1555.6 599.0 L1558.1 599.6 L1560.5 600.2 L1562.9 600.8 L1565.4 601.3 L1567.8 601.9 L1570.2 602.4 L1572.7 603.0 L1575.1 603.5 L1577.5 604.0 L1580.0 604.6 L1582.4 605.1 L1584.9 605.6 L1587.3 606.1 L1589.8 606.6 L1592.2 607.1 L1594.7 607.6 L1597.1 608.1 L1599.6 608.6 L1602.0 609.0 L1604.5 609.5 L1606.9 610.0 L1609.4 610.4 L1611.9 610.9 L1614.3 611.3 L1616.8 611.7 L1619.2 612.1 L1621.7 612.6 L1624.2 613.0 L1626.6 613.4 L1629.1 613.8 L1631.6 614.1 L1634.0 614.5 L1636.5 614.9 L1639.0 615.3 L1641.5 615.6 L1643.9 616.0 L1646.4 616.3 L1648.9 616.6 L1651.4 617.0 L1653.8 617.3 L1656.3 617.6 L1658.8 617.9 L1661.3 618.2 L1663.8 618.5 L1666.2 618.8 L1668.7 619.1 L1671.2 619.4 L1673.7 619.7 L1676.2 619.9 L1678.7 620.2 L1681.2 620.5 L1683.6 620.7 L1686.1 620.9 L1688.6 621.2 L1691.1 621.4 L1693.6 621.6 L1696.1 621.9 L1698.6 622.1 L1701.1 622.3 L1703.6 622.5 L1706.0 622.7 L1708.5 622.9 L1711.0 623.1 L1713.5 623.2 L1716.0 623.4 L1718.5 623.6 L1721.0 623.7 L1723.5 623.9 L1726.0 624.1 L1728.5 624.2 L1731.0 624.3 L1733.5 624.5 L1736.0 624.6 L1738.5 624.7 L1741.0 624.9 L1743.5 625.0 L1746.0 625.1 L1748.4 625.2 L1750.9 625.3 L1753.4 625.4 L1755.9 625.5 L1758.4 625.6 L1760.9 625.7 L1763.4 625.7 L1765.9 625.8 L1768.4 625.9 L1770.9 625.9 L1773.4 626.0 L1775.9 626.0 L1778.4 626.1 L1780.9 626.1 L1783.4 626.2" fill="none" stroke="#0000ff" stroke-width="7.0" stroke-linejoin="round"/>
<circle cx="1783.4" cy="626.2" r="3.5" fill="#0000ff"/>
<path d="M288.0 1058.0 L290.5 1057.8 L293.0 1057.7 L295.5 1057.6 L298.0 1057.5 L300.4 1057.4 L302.9 1057.3 L305.4 1057.1 L307.9 1057.0 L310.4 1056.9 L312.9 1056.8 L315.4 1056.7 L317.9 1056.6 L320.4 1056.5 L322.9 1056.3 L325.4 1056.2 L327.9 1056.1 L330.4 1056.0 L332.9 1055.9 L335.4 1055.8 L337.9 1055.7 L340.4 1055.6 L342.9 1055.5 L345.4 1055.3 L347.9 1055.2 L350.3 1055.1 L352.8 1055.0 L355.3 1054.9 L357.8 1054.8 L360.3 1054.7 L362.8 1054.6 L365.3 1054.5 L367.8 1054.4 L370.3 1054.3 L372.8 1054.2 L375.3 1054.1 L377.8 1053.9 L380.3 1053.8 L382.8 1053.7 L385.3 1053.6 L387.8 1053.5 L390.3 1053.4 L392.8 1053.3 L395.3 1053.2 L397.8 1053.1 L400.2 1053.0 L402.7 1052.9 L405.2 1052.8 L407.7 1052.7 L410.2 1052.6 L412.7 1052.5 L415.2 1052.3 L417.7 1052.2 L420.2 1052.1 L422.7 1052.0 L425.2 1051.9 L427.7 1051.8 L430.2 1051.7 L432.7 1051.6 L435.2 1051.5 L437.7 1051.4 L440.2 1051.3 L442.7 1051.1 L445.2 1051.0 L447.7 1050.9 L450.2 1050.8 L452.6 1050.7 L455.1 1050.6 L457.6 1050.5 L460.1 1050.4 L462.6 1050.2 L465.1 1050.1 L467.6 1050.0 L470.1 1049.9 L472.6 1049.8 L475.1 1049.7 L477.6 1049.6 L480.1 1049.4 L482.6 1049.3 L485.1 1049.2 L487.6 1049.1 L490.1 1049.0 L492.6 1048.8 L495.1 1048.7 L497.6 1048.6 L500.0 1048.5 L502.5 1048.4 L505.0 1048.2 L507.5 1048.1 L510.0 1048.0 L512.5 1047.9 L515.0 1047.7 L517.5 1047.6 L520.0 1047.5 L522.5 1047.4 L525.0 1047.2 L527.5 1047.1 L530.0 1047.0 L532.5 1046.8 L535.0 1046.7 L537.5 1046.6 L540.0 1046.4 L542.4 1046.3 L544.9 1046.2 L547.4 1046.0 L549.9 1045.9 L552.4 1045.7 L554.9 1045.6 L557.4 1045.5 L559.9 1045.3 L562.4 1045.2 L564.9 1045.0 L567.4 1044.9 L569.9 1044.7 L572.4 1044.6 L574.9 1044.4 L577.4 1044.3 L579.8 1044.1 L582.3 1044.0 L584.8 1043.8 L587.3 1043.7 L589.8 1043.5 L592.3 1043.4 L594.8 1043.2 L597.3 1043.0 L599.8 1042.9 L602.3 1042.7 L604.8 1042.5 L607.3 1042.4 L609.8 1042.2 L612.2 1042.0 L614.7 1041.9 L617.2 1041.7 L619.7 1041.5 L622.2 1041.4 L624.7 1041.2 L627.2 1041.0 L629.7 1040.8 L632.2 1040.6 L634.7 1040.5 L637.2 1040.3 L639.6 1040.1 L642.1 1039.9 L644.6 1039.7 L647.1 1039.5 L649.6 1039.3 L652.1 1039.2 L654.6 1039.0 L657.1 1038.8 L659.6 1038.6 L662.1 1038.4 L664.5 1038.2 L667.0 1038.0 L669.5 1037.8 L672.0 1037.5 L674.5 1037.3 L677.0 1037.1 L679.5 1036.9 L682.0 1036.7 L684.5 1036.4 L686.9 1036.2 L689.4 1036.0 L691.9 1035.7 L694.4 1035.5 L696.9 1035.3 L699.4 1035.0 L701.9 1034.7 L704.3 1034.5 L706.8 1034.2 L709.3 1033.9 L711.8 1033.7 L714.3 1033.4 L716.7 1033.1 L719.2 1032.8 L721.7 1032.5 L724.2 1032.2 L726.7 1031.9 L729.1 1031.5 L731.6 1031.2 L734.1 1030.9 L736.6 1030.5 L739.0 1030.2 L741.5 1029.8 L744.0 1029.5 L746.4 1029.1 L748.9 1028.7 L751.4 1028.3 L753.8 1027.9 L756.3 1027.5 L758.8 1027.1 L761.2 1026.7 L763.7 1026.2 L766.2 1025.8 L768.6 1025.3 L771.1 1024.9 L773.5 1024.4 L776.0 1023.9 L778.4 1023.4 L780.9 1022.9 L783.3 1022.4 L785.7 1021.9 L788.2 1021.4 L790.6 1020.8 L793.1 1020.3 L795.5 1019.7 L797.9 1019.1 L800.4 1018.5 L802.8 1017.9 L805.2 1017.3 L807.6 1016.7 L810.0 1016.1 L812.4 1015.4 L814.9 1014.8 L817.3 1014.1 L819.7 1013.4 L822.1 1012.7 L824.5 1012.0 L826.8 1011.3 L829.2 1010.6 L831.6 1009.8 L834.0 1009.1 L836.4 1008.3 L838.7 1007.5 L841.1 1006.7 L843.5 1005.9 L845.8 1005.1 L848.2 1004.3 L850.5 1003.4 L852.9 1002.6 L855.2 1001.7 L857.6 1000.8 L859.9 999.9 L862.2 999.0 L864.5 998.1 L866.9 997.1 L869.2 996.2 L871.5 995.2 L873.8 994.2 L876.0 993.2 L878.3 992.2 L880.6 991.2 L882.9 990.1 L885.1 989.1 L887.4 988.0 L889.6 986.9 L891.9 985.8 L894.1 984.7 L896.4 983.6 L898.6 982.4 L900.8 981.3 L903.0 980.1 L905.2 978.9 L907.4 977.7 L909.5 976.5 L911.7 975.2 L913.9 974.0 L916.0 972.7 L918.2 971.4 L920.3 970.1 L922.4 968.8 L924.5 967.5 L926.6 966.1 L928.7 964.8 L930.8 963.4 L932.9 962.0 L934.9 960.6 L937.0 959.1 L939.0 957.7 L941.0 956.2 L943.0 954.7 L945.0 953.2 L947.0 951.7 L949.0 950.1 L950.9 948.6 L952.9 947.0 L954.8 945.4 L956.7 943.9 L958.6 942.2 L960.5 940.6 L962.4 939.0 L964.3 937.3 L966.1 935.7 L968.0 934.0 L969.8 932.3 L971.7 930.6 L973.5 928.9 L975.3 927.1 L977.1 925.4 L978.8 923.6 L980.6 921.9 L982.4 920.1 L984.1 918.3 L985.8 916.5 L987.6 914.7 L989.3 912.9 L991.0 911.1 L992.7 909.2 L994.4 907.4 L996.0 905.5 L997.7 903.7 L999.3 901.8 L1001.0 899.9 L1002.6 898.0 L1004.2 896.1 L1005.8 894.2 L1007.5 892.3 L1009.0 890.4 L1010.6 888.5 L1012.2 886.5 L1013.8 884.6 L1015.3 882.6 L1016.9 880.7 L1018.4 878.7 L1020.0 876.7 L1021.5 874.8 L1023.0 872.8 L1024.5 870.8 L1026.0 868.8 L1027.5 866.8 L1029.0 864.8 L1030.5 862.8 L1032.0 860.8 L1033.5 858.8 L1034.9 856.7 L1036.4 854.7 L1037.9 852.7 L1039.3 850.7 L1040.8 848.6 L1042.2 846.6 L1043.6 844.5 L1045.0 842.5 L1046.5 840.4 L1047.9 838.4 L1049.3 836.3 L1050.7 834.2 L1052.1 832.2 L1053.5 830.1 L1054.9 828.0 L1056.2 825.9 L1057.6 823.8 L1059.0 821.8 L1060.4 819.7 L1061.7 817.6 L1063.1 815.5 L1064.4 813.4 L1065.8 811.3 L1067.1 809.2 L1068.5 807.1 L1069.8 805.0 L1071.1 802.8 L1072.5 800.7 L1073.8 798.6 L1075.1 796.5 L1076.4 794.4 L1077.7 792.2 L1079.0 790.1 L1080.4 788.0 L1081.7 785.9 L1083.0 783.7 L1084.3 781.6 L1085.5 779.5 L1086.8 777.3 L1088.1 775.2 L1089.4 773.0 L1090.7 770.9 L1092.0 768.7 L1093.2 766.6 L1094.5 764.4 L1095.8 762.3 L1097.1 760.1 L1098.3 758.0 L1099.6 755.8 L1100.8 753.7 L1102.1 751.5 L1103.4 749.4 L1104.6 747.2 L1105.9 745.1 L1107.1 742.9 L1108.4 740.7 L1109.6 738.6 L1110.9 736.4 L1112.1 734.2 L1113.4 732.1 L1114.6 729.9 L1115.9 727.8 L1117.1 725.6 L1118.4 723.4 L1119.6 721.3 L1120.8 719.1 L1122.1 716.9 L1123.3 714.8 L1124.6 712.6 L1125.8 710.4 L1127.0 708.3 L1128.3 706.1 L1129.5 703.9 L1130.8 701.8 L1132.0 699.6 L1133.3 697.4 L1134.5 695.3 L1135.7 693.1 L1137.0 690.9 L1138.2 688.8 L1139.5 686.6 L1140.7 684.4 L1142.0 682.3 L1143.2 680.1 L1144.5 677.9 L1145.7 675.8 L1147.0 673.6 L1148.2 671.5 L1149.5 669.3 L1150.7 667.1 L1152.0 665.0 L1153.3 662.8 L1154.5 660.7 L1155.8 658.5 L1157.0 656.4 L1158.3 654.2 L1159.6 652.1 L1160.9 649.9 L1162.1 647.8 L1163.4 645.6 L1164.7 643.5 L1166.0 641.3 L1167.3 639.2 L1168.6 637.1 L1169.9 634.9 L1171.1 632.8 L1172.4 630.7 L1173.8 628.5 L1175.1 626.4 L1176.4 624.3 L1177.7 622.1 L1179.0 620.0 L1180.3 617.9 L1181.6 615.8 L1183.0 613.7 L1184.3 611.6 L1185.6 609.5 L1187.0 607.3 L1188.3 605.2 L1189.7 603.1 L1191.0 601.0 L1192.4 598.9 L1193.8 596.9 L1195.1 594.8 L1196.5 592.7 L1197.9 590.6 L1199.3 588.5 L1200.7 586.4 L1202.0 584.4 L1203.4 582.3 L1204.9 580.2 L1206.3 578.2 L1207.7 576.1 L1209.1 574.1 L1210.5 572.0 L1212.0 570.0 L1213.4 567.9 L1214.8 565.9 L1216.3 563.9 L1217.7 561.8 L1219.2 559.8 L1220.7 557.8 L1222.2 555.8 L1223.7 553.8 L1225.1 551.8 L1226.7 549.8 L1228.2 547.8 L1229.7 545.8 L1231.2 543.9 L1232.8 541.9 L1234.4 540.0 L1235.9 538.0 L1237.5 536.1 L1239.1 534.2 L1240.8 532.3 L1242.4 530.4 L1244.1 528.5 L1245.7 526.7 L1247.4 524.8 L1249.1 523.0 L1250.8 521.2 L1252.6 519.4 L1254.3 517.6 L1256.1 515.9 L1257.9 514.1 L1259.7 512.4 L1261.5 510.7 L1263.4 509.0 L1265.2 507.3 L1267.1 505.7 L1269.0 504.1 L1270.9 502.5 L1272.8 500.9 L1274.8 499.3 L1276.7 497.7 L1278.7 496.2 L1280.7 494.7 L1282.7 493.2 L1284.7 491.7 L1286.7 490.3 L1288.8 488.9 L1290.9 487.5 L1292.9 486.1 L1295.0 484.7 L1297.2 483.4 L1299.3 482.1 L1301.4 480.8 L1303.6 479.5 L1305.7 478.3 L1307.9 477.1 L1310.1 475.9 L1312.3 474.7 L1314.6 473.6 L1316.8 472.5 L1319.1 471.4 L1321.3 470.4 L1323.6 469.4 L1325.9 468.4 L1328.2 467.4 L1330.5 466.4 L1332.8 465.5 L1335.2 464.6 L1337.5 463.7 L1339.8 462.9 L1342.2 462.1 L1344.6 461.3 L1346.9 460.5 L1349.3 459.7 L1351.7 459.0 L1354.1 458.3 L1356.5 457.6 L1358.9 457.0 L1361.3 456.3 L1363.7 455.7 L1366.2 455.1 L1368.6 454.5 L1371.0 453.9 L1373.5 453.4 L1375.9 452.9 L1378.4 452.4 L1380.8 451.9 L1383.3 451.4 L1385.7 450.9 L1388.2 450.5 L1390.6 450.1 L1393.1 449.7 L1395.6 449.3 L1398.0 448.9 L1400.5 448.5 L1403.0 448.2 L1405.4 447.8 L1407.9 447.5 L1410.4 447.2 L1412.9 446.9 L1415.4 446.6 L1417.8 446.3 L1420.3 446.0 L1422.8 445.8 L1425.3 445.5 L1427.8 445.3 L1430.3 445.0 L1432.8 444.8 L1435.2 444.6 L1437.7 444.4 L1440.2 444.2 L1442.7 444.0 L1445.2 443.8 L1447.7 443.6 L1450.2 443.4 L1452.7 443.3 L1455.2 443.1 L1457.7 442.9 L1460.1 442.8 L1462.6 442.6 L1465.1 442.5 L1467.6 442.3 L1470.1 442.2 L1472.6 442.0 L1475.1 441.9 L1477.6 441.7 L1480.1 441.6 L1482.6 441.5 L1485.1 441.3 L1487.6 441.2 L1490.1 441.0 L1492.6 440.9 L1495.1 440.7 L1497.5 440.6 L1500.0 440.5 L1502.5 440.3 L1505.0 440.2 L1507.5 440.0 L1510.0 439.9 L1512.5 439.7 L1515.0 439.6 L1517.5 439.4 L1520.0 439.3 L1522.5 439.1 L1525.0 439.0 L1527.5 438.8 L1530.0 438.6 L1532.4 438.5 L1534.9 438.3 L1537.4 438.2 L1539.9 438.0 L1542.4 437.8 L1544.9 437.7 L1547.4 437.5 L1549.9 437.4 L1552.4 437.2 L1554.9 437.0 L1557.4 436.9 L1559.9 436.7 L1562.4 436.5 L1564.8 436.3 L1567.3 436.2 L1569.8 436.0 L1572.3 435.8 L1574.8 435.7 L1577.3 435.5 L1579.8 435.3 L1582.3 435.1 L1584.8 434.9 L1587.3 434.8 L1589.8 434.6 L1592.2 434.4 L1594.7 434.2 L1597.2 434.0 L1599.7 433.9 L1602.2 433.7 L1604.7 433.5 L1607.2 433.3 L1609.7 433.1 L1612.2 432.9 L1614.7 432.7 L1617.2 432.5 L1619.6 432.3 L1622.1 432.1 L1624.6 431.9 L1627.1 431.7 L1629.6 431.6 L1632.1 431.4 L1634.6 431.2 L1637.1 431.0 L1639.6 430.8 L1642.0 430.5 L1644.5 430.3 L1647.0 430.1 L1649.5 429.9 L1652.0 429.7 L1654.5 429.5 L1657.0 429.3 L1659.5 429.1 L1662.0 428.9 L1664.4 428.7 L1666.9 428.5 L1669.4 428.2 L1671.9 428.0 L1674.4 427.8 L1676.9 427.6 L1679.4 427.4 L1681.9 427.2 L1684.3 426.9 L1686.8 426.7 L1689.3 426.5 L1691.8 426.3 L1694.3 426.1 L1696.8 425.8 L1699.3 425.6 L1701.8 425.4 L1704.2 425.1 L1706.7 424.9 L1709.2 424.7 L1711.7 424.4 L1714.2 424.2 L1716.7 424.0 L1719.2 423.7 L1721.7 423.5 L1724.1 423.3 L1726.6 423.0 L1729.1 422.8 L1731.6 422.6 L1734.1 422.3 L1736.6 422.1 L1739.1 421.8 L1741.5 421.6 L1744.0 421.3 L1746.5 421.1 L1749.0 420.9 L1751.5 420.6 L1754.0 420.4 L1756.5 420.1 L1758.9 419.9 L1761.4 419.6 L1763.9 419.3 L1766.4 419.1 L1768.9 418.8 L1771.4 418.6 L1773.8 418.3 L1776.3 418.1 L1778.8 417.8 L1781.3 417.6 L1783.8 417.3" fill="none" stroke="#008080" stroke-width="7.0" stroke-linejoin="round"/>
<circle cx="1783.8" cy="417.3" r="3.5" fill="#008080"/>
<path d="M287.9 1058.0 L290.4 1057.8 L292.9 1057.6 L295.4 1057.4 L297.9 1057.2 L300.4 1057.0 L302.9 1056.9 L305.4 1056.7 L307.9 1056.5 L310.3 1056.3 L312.8 1056.2 L315.3 1056.0 L317.8 1055.8 L320.3 1055.7 L322.8 1055.5 L325.3 1055.3 L327.8 1055.2 L330.3 1055.0 L332.8 1054.9 L335.3 1054.7 L337.8 1054.6 L340.3 1054.5 L342.8 1054.3 L345.3 1054.2 L347.8 1054.0 L350.2 1053.9 L352.7 1053.8 L355.2 1053.6 L357.7 1053.5 L360.2 1053.4 L362.7 1053.3 L365.2 1053.1 L367.7 1053.0 L370.2 1052.9 L372.7 1052.8 L375.2 1052.6 L377.7 1052.5 L380.2 1052.4 L382.7 1052.3 L385.2 1052.2 L387.7 1052.1 L390.2 1052.0 L392.7 1051.9 L395.2 1051.8 L397.7 1051.7 L400.2 1051.6 L402.7 1051.4 L405.2 1051.3 L407.7 1051.2 L410.2 1051.1 L412.6 1051.0 L415.1 1050.9 L417.6 1050.8 L420.1 1050.8 L422.6 1050.7 L425.1 1050.6 L427.6 1050.5 L430.1 1050.4 L432.6 1050.3 L435.1 1050.2 L437.6 1050.1 L440.1 1050.0 L442.6 1049.9 L445.1 1049.8 L447.6 1049.7 L450.1 1049.6 L452.6 1049.5 L455.1 1049.4 L457.6 1049.4 L460.1 1049.3 L462.6 1049.2 L465.1 1049.1 L467.6 1049.0 L470.1 1048.9 L472.6 1048.8 L475.1 1048.7 L477.6 1048.6 L480.1 1048.5 L482.6 1048.4 L485.1 1048.3 L487.6 1048.2 L490.0 1048.2 L492.5 1048.1 L495.0 1048.0 L497.5 1047.9 L500.0 1047.8 L502.5 1047.7 L505.0 1047.6 L507.5 1047.5 L510.0 1047.4 L512.5 1047.3 L515.0 1047.2 L517.5 1047.1 L520.0 1047.0 L522.5 1046.8 L525.0 1046.7 L527.5 1046.6 L530.0 1046.5 L532.5 1046.4 L535.0 1046.3 L537.5 1046.2 L540.0 1046.1 L542.5 1045.9 L545.0 1045.8 L547.5 1045.7 L550.0 1045.6 L552.5 1045.5 L555.0 1045.3 L557.4 1045.2 L559.9 1045.1 L562.4 1044.9 L564.9 1044.8 L567.4 1044.7 L569.9 1044.5 L572.4 1044.4 L574.9 1044.3 L577.4 1044.1 L579.9 1044.0 L582.4 1043.8 L584.9 1043.7 L587.4 1043.5 L589.9 1043.4 L592.4 1043.2 L594.9 1043.0 L597.4 1042.9 L599.8 1042.7 L602.3 1042.5 L604.8 1042.4 L607.3 1042.2 L609.8 1042.0 L612.3 1041.9 L614.8 1041.7 L617.3 1041.5 L619.8 1041.3 L622.3 1041.1 L624.8 1040.9 L627.3 1040.7 L629.8 1040.5 L632.2 1040.3 L634.7 1040.1 L637.2 1039.9 L639.7 1039.7 L642.2 1039.5 L644.7 1039.3 L647.2 1039.0 L649.7 1038.8 L652.2 1038.6 L654.6 1038.3 L657.1 1038.1 L659.6 1037.9 L662.1 1037.6 L664.6 1037.4 L667.1 1037.1 L669.6 1036.9 L672.0 1036.6 L674.5 1036.3 L677.0 1036.1 L679.5 1035.8 L682.0 1035.5 L684.5 1035.2 L686.9 1035.0 L689.4 1034.7 L691.9 1034.4 L694.4 1034.1 L696.9 1033.8 L699.4 1033.5 L701.8 1033.2 L704.3 1032.9 L706.8 1032.5 L709.3 1032.2 L711.7 1031.9 L714.2 1031.6 L716.7 1031.2 L719.2 1030.9 L721.6 1030.5 L724.1 1030.2 L726.6 1029.8 L729.1 1029.4 L731.5 1029.1 L734.0 1028.7 L736.5 1028.3 L738.9 1027.9 L741.4 1027.5 L743.9 1027.1 L746.3 1026.7 L748.8 1026.3 L751.3 1025.8 L753.7 1025.4 L756.2 1024.9 L758.6 1024.5 L761.1 1024.0 L763.5 1023.5 L766.0 1023.0 L768.4 1022.6 L770.9 1022.0 L773.3 1021.5 L775.8 1021.0 L778.2 1020.5 L780.6 1019.9 L783.1 1019.4 L785.5 1018.8 L788.0 1018.2 L790.4 1017.7 L792.8 1017.1 L795.2 1016.4 L797.6 1015.8 L800.1 1015.2 L802.5 1014.6 L804.9 1013.9 L807.3 1013.2 L809.7 1012.5 L812.1 1011.8 L814.5 1011.1 L816.9 1010.4 L819.3 1009.7 L821.7 1008.9 L824.0 1008.2 L826.4 1007.4 L828.8 1006.6 L831.2 1005.8 L833.5 1005.0 L835.9 1004.2 L838.2 1003.3 L840.6 1002.5 L842.9 1001.6 L845.2 1000.7 L847.6 999.8 L849.9 998.9 L852.2 997.9 L854.5 997.0 L856.8 996.0 L859.1 995.0 L861.4 994.0 L863.7 993.0 L866.0 992.0 L868.2 990.9 L870.5 989.9 L872.8 988.8 L875.0 987.7 L877.2 986.6 L879.5 985.5 L881.7 984.3 L883.9 983.2 L886.1 982.0 L888.3 980.8 L890.5 979.6 L892.7 978.4 L894.9 977.2 L897.0 975.9 L899.2 974.7 L901.3 973.4 L903.5 972.1 L905.6 970.8 L907.7 969.5 L909.8 968.1 L911.9 966.8 L914.0 965.4 L916.1 964.0 L918.2 962.6 L920.2 961.2 L922.3 959.8 L924.3 958.3 L926.4 956.9 L928.4 955.4 L930.4 953.9 L932.4 952.4 L934.4 950.9 L936.3 949.4 L938.3 947.8 L940.2 946.2 L942.2 944.7 L944.1 943.1 L946.0 941.5 L947.9 939.8 L949.8 938.2 L951.7 936.6 L953.6 934.9 L955.4 933.2 L957.3 931.5 L959.1 929.8 L960.9 928.1 L962.7 926.4 L964.5 924.7 L966.3 922.9 L968.1 921.2 L969.8 919.4 L971.6 917.6 L973.3 915.8 L975.0 914.0 L976.8 912.2 L978.5 910.4 L980.2 908.5 L981.9 906.7 L983.5 904.8 L985.2 903.0 L986.8 901.1 L988.5 899.2 L990.1 897.3 L991.7 895.4 L993.3 893.5 L994.9 891.6 L996.5 889.7 L998.1 887.7 L999.7 885.8 L1001.3 883.8 L1002.8 881.9 L1004.4 879.9 L1005.9 877.9 L1007.4 876.0 L1008.9 874.0 L1010.4 872.0 L1011.9 870.0 L1013.4 868.0 L1014.9 866.0 L1016.4 863.9 L1017.8 861.9 L1019.3 859.9 L1020.7 857.8 L1022.2 855.8 L1023.6 853.8 L1025.0 851.7 L1026.4 849.6 L1027.8 847.6 L1029.2 845.5 L1030.6 843.4 L1032.0 841.3 L1033.4 839.3 L1034.8 837.2 L1036.1 835.1 L1037.5 833.0 L1038.8 830.9 L1040.2 828.8 L1041.5 826.7 L1042.8 824.5 L1044.2 822.4 L1045.5 820.3 L1046.8 818.2 L1048.1 816.0 L1049.4 813.9 L1050.7 811.8 L1051.9 809.6 L1053.2 807.5 L1054.5 805.3 L1055.8 803.2 L1057.0 801.0 L1058.3 798.8 L1059.5 796.7 L1060.8 794.5 L1062.0 792.3 L1063.2 790.2 L1064.5 788.0 L1065.7 785.8 L1066.9 783.6 L1068.1 781.4 L1069.3 779.3 L1070.5 777.1 L1071.7 774.9 L1072.9 772.7 L1074.1 770.5 L1075.3 768.3 L1076.5 766.1 L1077.6 763.9 L1078.8 761.7 L1080.0 759.5 L1081.1 757.2 L1082.3 755.0 L1083.4 752.8 L1084.6 750.6 L1085.7 748.4 L1086.9 746.1 L1088.0 743.9 L1089.1 741.7 L1090.3 739.5 L1091.4 737.2 L1092.5 735.0 L1093.6 732.8 L1094.8 730.5 L1095.9 728.3 L1097.0 726.1 L1098.1 723.8 L1099.2 721.6 L1100.3 719.3 L1101.4 717.1 L1102.5 714.8 L1103.6 712.6 L1104.7 710.3 L1105.7 708.1 L1106.8 705.8 L1107.9 703.6 L1109.0 701.3 L1110.1 699.1 L1111.1 696.8 L1112.2 694.6 L1113.3 692.3 L1114.3 690.0 L1115.4 687.8 L1116.5 685.5 L1117.5 683.3 L1118.6 681.0 L1119.7 678.7 L1120.7 676.5 L1121.8 674.2 L1122.8 672.0 L1123.9 669.7 L1125.0 667.4 L1126.0 665.2 L1127.1 662.9 L1128.1 660.6 L1129.2 658.4 L1130.2 656.1 L1131.3 653.8 L1132.3 651.6 L1133.4 649.3 L1134.4 647.0 L1135.5 644.8 L1136.5 642.5 L1137.6 640.2 L1138.6 638.0 L1139.7 635.7 L1140.7 633.4 L1141.8 631.2 L1142.8 628.9 L1143.9 626.6 L1144.9 624.4 L1146.0 622.1 L1147.1 619.8 L1148.1 617.6 L1149.2 615.3 L1150.2 613.0 L1151.3 610.8 L1152.3 608.5 L1153.4 606.3 L1154.5 604.0 L1155.5 601.7 L1156.6 599.5 L1157.7 597.2 L1158.7 595.0 L1159.8 592.7 L1160.9 590.4 L1161.9 588.2 L1163.0 585.9 L1164.1 583.7 L1165.2 581.4 L1166.2 579.2 L1167.3 576.9 L1168.4 574.7 L1169.5 572.4 L1170.6 570.2 L1171.7 567.9 L1172.8 565.7 L1173.8 563.4 L1174.9 561.2 L1176.0 558.9 L1177.1 556.7 L1178.2 554.4 L1179.3 552.2 L1180.4 549.9 L1181.5 547.7 L1182.6 545.5 L1183.8 543.2 L1184.9 541.0 L1186.0 538.7 L1187.1 536.5 L1188.2 534.3 L1189.3 532.0 L1190.5 529.8 L1191.6 527.6 L1192.7 525.4 L1193.8 523.1 L1195.0 520.9 L1196.1 518.7 L1197.3 516.5 L1198.4 514.2 L1199.5 512.0 L1200.7 509.8 L1201.8 507.6 L1203.0 505.4 L1204.1 503.1 L1205.3 500.9 L1206.5 498.7 L1207.6 496.5 L1208.8 494.3 L1210.0 492.1 L1211.1 489.9 L1212.3 487.7 L1213.5 485.5 L1214.7 483.3 L1215.9 481.1 L1217.1 478.9 L1218.3 476.7 L1219.5 474.5 L1220.7 472.3 L1221.9 470.1 L1223.1 467.9 L1224.3 465.7 L1225.5 463.6 L1226.7 461.4 L1227.9 459.2 L1229.2 457.0 L1230.4 454.8 L1231.6 452.7 L1232.9 450.5 L1234.1 448.3 L1235.3 446.2 L1236.6 444.0 L1237.8 441.8 L1239.1 439.7 L1240.4 437.5 L1241.6 435.4 L1242.9 433.2 L1244.2 431.1 L1245.5 428.9 L1246.8 426.8 L1248.1 424.7 L1249.4 422.5 L1250.7 420.4 L1252.0 418.3 L1253.3 416.1 L1254.6 414.0 L1256.0 411.9 L1257.3 409.8 L1258.7 407.7 L1260.0 405.6 L1261.4 403.5 L1262.7 401.4 L1264.1 399.3 L1265.5 397.3 L1266.9 395.2 L1268.3 393.1 L1269.7 391.0 L1271.1 389.0 L1272.5 386.9 L1274.0 384.9 L1275.4 382.8 L1276.8 380.8 L1278.3 378.8 L1279.8 376.7 L1281.2 374.7 L1282.7 372.7 L1284.2 370.7 L1285.7 368.7 L1287.2 366.7 L1288.7 364.7 L1290.3 362.8 L1291.8 360.8 L1293.3 358.8 L1294.9 356.9 L1296.5 354.9 L1298.1 353.0 L1299.6 351.1 L1301.2 349.1 L1302.9 347.2 L1304.5 345.3 L1306.1 343.4 L1307.7 341.6 L1309.4 339.7 L1311.1 337.8 L1312.7 336.0 L1314.4 334.1 L1316.1 332.3 L1317.8 330.5 L1319.5 328.6 L1321.3 326.8 L1323.0 325.0 L1324.8 323.3 L1326.5 321.5 L1328.3 319.7 L1330.1 318.0 L1331.9 316.3 L1333.7 314.5 L1335.5 312.8 L1337.3 311.1 L1339.2 309.4 L1341.0 307.7 L1342.9 306.1 L1344.7 304.4 L1346.6 302.8 L1348.5 301.1 L1350.4 299.5 L1352.3 297.9 L1354.2 296.3 L1356.2 294.7 L1358.1 293.1 L1360.0 291.5 L1362.0 290.0 L1363.9 288.4 L1365.9 286.9 L1367.9 285.4 L1369.9 283.8 L1371.9 282.3 L1373.9 280.9 L1375.9 279.4 L1377.9 277.9 L1380.0 276.4 L1382.0 275.0 L1384.0 273.6 L1386.1 272.1 L1388.2 270.7 L1390.2 269.3 L1392.3 267.9 L1394.4 266.6 L1396.5 265.2 L1398.6 263.9 L1400.7 262.5 L1402.8 261.2 L1404.9 259.9 L1407.0 258.5 L1409.2 257.2 L1411.3 256.0 L1413.5 254.7 L1415.6 253.4 L1417.8 252.2 L1419.9 250.9 L1422.1 249.7 L1424.3 248.4 L1426.5 247.2 L1428.7 246.0 L1430.9 244.8 L1433.0 243.6 L1435.2 242.4 L1437.5 241.3 L1439.7 240.1 L1441.9 238.9 L1444.1 237.8 L1446.3 236.6 L1448.5 235.5 L1450.8 234.4 L1453.0 233.3 L1455.2 232.2 L1457.5 231.0 L1459.7 229.9 L1462.0 228.9 L1464.2 227.8 L1466.5 226.7 L1468.7 225.6 L1471.0 224.5 L1473.3 223.5 L1475.5 222.4 L1477.8 221.4 L1480.1 220.3 L1482.3 219.3 L1484.6 218.2 L1486.9 217.2 L1489.1 216.2 L1491.4 215.2 L1493.7 214.1 L1496.0 213.1 L1498.3 212.1 L1500.6 211.1 L1502.9 210.1 L1505.1 209.1 L1507.4 208.1 L1509.7 207.1 L1512.0 206.1 L1514.3 205.1 L1516.6 204.2 L1518.9 203.2 L1521.2 202.2 L1523.5 201.3 L1525.8 200.3 L1528.1 199.3 L1530.4 198.4 L1532.8 197.4 L1535.1 196.5 L1537.4 195.5 L1539.7 194.6 L1542.0 193.6 L1544.3 192.7 L1546.6 191.8 L1549.0 190.9 L1551.3 189.9 L1553.6 189.0 L1555.9 188.1 L1558.3 187.2 L1560.6 186.3 L1562.9 185.4 L1565.2 184.4 L1567.6 183.5 L1569.9 182.6 L1572.2 181.7 L1574.6 180.8 L1576.9 180.0 L1579.2 179.1 L1581.6 178.2 L1583.9 177.3 L1586.2 176.4 L1588.6 175.5 L1590.9 174.7 L1593.3 173.8 L1595.6 172.9 L1597.9 172.0 L1600.3 171.2 L1602.6 170.3 L1605.0 169.4 L1607.3 168.6 L1609.7 167.7 L1612.0 166.9 L1614.4 166.0 L1616.7 165.2 L1619.1 164.3 L1621.4 163.5 L1623.8 162.6 L1626.1 161.8 L1628.5 160.9 L1630.8 160.1 L1633.2 159.2 L1635.5 158.4 L1637.9 157.6 L1640.2 156.7 L1642.6 155.9 L1644.9 155.1 L1647.3 154.2 L1649.7 153.4 L1652.0 152.6 L1654.4 151.7 L1656.7 150.9 L1659.1 150.1 L1661.4 149.3 L1663.8 148.4 L1666.2 147.6 L1668.5 146.8 L1670.9 146.0 L1673.2 145.1 L1675.6 144.3 L1678.0 143.5 L1680.3 142.7 L1682.7 141.9 L1685.0 141.0 L1687.4 140.2 L1689.8 139.4 L1692.1 138.6 L1694.5 137.8 L1696.8 137.0 L1699.2 136.1 L1701.6 135.3 L1703.9 134.5 L1706.3 133.7 L1708.7 132.9 L1711.0 132.1 L1713.4 131.2 L1715.7 130.4 L1718.1 129.6 L1720.5 128.8 L1722.8 128.0 L1725.2 127.2 L1727.5 126.3 L1729.9 125.5 L1732.3 124.7 L1734.6 123.9 L1737.0 123.1 L1739.3 122.2 L1741.7 121.4 L1744.1 120.6 L1746.4 119.8 L1748.8 119.0 L1751.1 118.1 L1753.5 117.3 L1755.9 116.5 L1758.2 115.7 L1760.6 114.8 L1762.9 114.0 L1765.3 113.2 L1767.6 112.3 L1770.0 111.5 L1772.4 110.7 L1774.7 109.8 L1777.1 109.0 L1779.4 108.2 L1781.8 107.3 L1784.1 106.5 L1786.5 105.6" fill="none" stroke="#ff00ff" stroke-width="7.0" stroke-linejoin="round"/>
<text x="163.1" y="1089.8" font-size="74.5" textLength="89.88" lengthAdjust="spacingAndGlyphs" fill="#000">0.0</text>
<text x="163.07" y="943.37" font-size="74.5" textLength="90.93" lengthAdjust="spacingAndGlyphs" fill="#000">0.1</text>
<text x="163.1" y="796.94" font-size="74.5" textLength="89.88" lengthAdjust="spacingAndGlyphs" fill="#000">0.2</text>
<text x="163.14" y="650.51" font-size="74.5" textLength="88.84" lengthAdjust="spacingAndGlyphs" fill="#000">0.3</text>
<text x="163.17" y="504.09" font-size="74.5" textLength="87.83" lengthAdjust="spacingAndGlyphs" fill="#000">0.4</text>
<text x="163.14" y="357.66" font-size="74.5" textLength="88.84" lengthAdjust="spacingAndGlyphs" fill="#000">0.5</text>
<text x="163.14" y="211.23" font-size="74.5" textLength="88.84" lengthAdjust="spacingAndGlyphs" fill="#000">0.6</text>
<text x="163.14" y="64.8" font-size="74.5" textLength="88.84" lengthAdjust="spacingAndGlyphs" fill="#000">0.7</text>
<text x="243.82" y="1233.8" font-size="74.5" textLength="89.44" lengthAdjust="spacingAndGlyphs" fill="#000">0.0</text>
<text x="618.78" y="1233.8" font-size="74.5" textLength="90.5" lengthAdjust="spacingAndGlyphs" fill="#000">0.1</text>
<text x="993.82" y="1233.8" font-size="74.5" textLength="89.44" lengthAdjust="spacingAndGlyphs" fill="#000">0.2</text>
<text x="1368.85" y="1233.8" font-size="74.5" textLength="88.42" lengthAdjust="spacingAndGlyphs" fill="#000">0.3</text>
<text x="1743.88" y="1233.8" font-size="74.5" textLength="87.41" lengthAdjust="spacingAndGlyphs" fill="#000">0.4</text>
<text x="574.04" y="1357.9" font-size="90.9" textLength="900.77" lengthAdjust="spacingAndGlyphs" fill="#000">Potential/V vs. Ag/AgCl</text>
<text transform="translate(79,835) rotate(-90)" x="-3.93" y="0" font-size="90.9" textLength="495.26" lengthAdjust="spacingAndGlyphs">Current / μA</text>
<text x="355.76" y="114.0" font-size="60.6" textLength="29.36" lengthAdjust="spacingAndGlyphs" fill="#000">a</text>
<path d="M399.5 95.5 H521.5" stroke="#000" stroke-width="7" stroke-linecap="round"/>
<text x="536.93" y="114.0" font-size="60.6" textLength="266.04" lengthAdjust="spacingAndGlyphs" fill="#000">PBS blank</text>
<text x="358.56" y="187.6" font-size="60.6" textLength="31.73" lengthAdjust="spacingAndGlyphs" fill="#ff0000">b</text>
<path d="M403.3 168.8 H525.3" stroke="#ff0000" stroke-width="7" stroke-linecap="round"/>
<text x="538.6" y="187.6" font-size="60.6" textLength="165.71" lengthAdjust="spacingAndGlyphs" fill="#000">Serum</text>
<text x="355.53" y="260.9" font-size="60.6" textLength="29.23" lengthAdjust="spacingAndGlyphs" fill="#0000ff">c</text>
<path d="M396.3 242.0 H518.2" stroke="#0000ff" stroke-width="7" stroke-linecap="round"/>
<text x="532.07" y="260.9" font-size="60.6" textLength="636.94" lengthAdjust="spacingAndGlyphs" fill="#000">Serum + 0.11 ng/mL PSA</text>
<text x="355.79" y="334.2" font-size="60.6" textLength="32.13" lengthAdjust="spacingAndGlyphs" fill="#008080">d</text>
<path d="M403.5 315.3 H524.7" stroke="#008080" stroke-width="7" stroke-linecap="round"/>
<text x="539.39" y="334.2" font-size="60.6" textLength="636.85" lengthAdjust="spacingAndGlyphs" fill="#000">Serum + 0.33 ng/mL PSA</text>
<text x="355.71" y="407.0" font-size="60.6" textLength="29.47" lengthAdjust="spacingAndGlyphs" fill="#ff80ff">e</text>
<path d="M396.7 388.5 H518.5" stroke="#ff00ff" stroke-width="7" stroke-linecap="round"/>
<text x="532.08" y="407.0" font-size="60.6" textLength="637.26" lengthAdjust="spacingAndGlyphs" fill="#000">Serum + 0.67 ng/mL PSA</text>
<text x="1298.35" y="720.3" font-size="60.6" textLength="29.48" lengthAdjust="spacingAndGlyphs" fill="#000">a</text>
<text x="1303.14" y="624.8" font-size="60.6" textLength="32.42" lengthAdjust="spacingAndGlyphs" fill="#ff0000">b</text>
<text x="1317.63" y="539.3" font-size="60.6" textLength="29.23" lengthAdjust="spacingAndGlyphs" fill="#0000ff">c</text>
<text x="1333.13" y="440.3" font-size="60.6" textLength="31.46" lengthAdjust="spacingAndGlyphs" fill="#008080">d</text>
<text x="1397.7" y="230.4" font-size="60.6" textLength="29.6" lengthAdjust="spacingAndGlyphs" fill="#ff00ff">e</text>
</svg></body></html>
